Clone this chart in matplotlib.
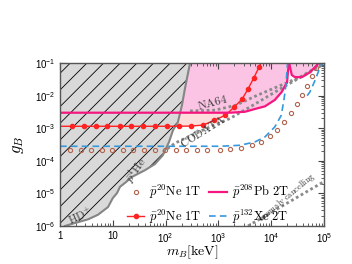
import numpy as np
import matplotlib.pyplot as plt
from matplotlib.ticker import FuncFormatter, LogLocator, NullFormatter

plt.rcParams['font.family'] = 'Liberation Sans'
plt.rcParams['hatch.linewidth'] = 0.6

# excluded region (HD+ / pbar-4He), boundary points
gray_m = [1, 1.24, 1.92, 3.4, 5.2, 8.1, 10, 12, 13.7, 17, 23, 41, 63, 89, 116, 138, 171, 204, 233, 290]
gray_g = [1e-6, 1e-6, 1.23e-6, 1.6e-6, 2.2e-6, 3.8e-6, 7.2e-6, 1.02e-5, 1.6e-5, 2.1e-5, 3.2e-5,
          5.2e-5, 8e-5, 1.5e-4, 3.8e-4, 8.7e-4, 1.55e-3, 5.1e-3, 1.7e-2, 0.1]

# pbar 20Ne 1T (filled markers)
red_m = [1, 1.69, 2.8, 4.8, 7.9, 13.5, 22.4, 38, 63, 107, 178, 302, 513, 832, 1350, 2000, 2820, 3630, 4680, 5890, 6310]
red_g = [1.15e-3, 1.15e-3, 1.15e-3, 1.15e-3, 1.15e-3, 1.15e-3, 1.15e-3, 1.15e-3, 1.15e-3, 1.15e-3, 1.15e-3,
         1.17e-3, 1.25e-3, 1.75e-3, 2.5e-3, 4.5e-3, 7.9e-3, 1.6e-2, 3.5e-2, 7.6e-2, 0.1]

# pbar 208Pb 2T
pb_m = [1, 1660, 3160, 4900, 7590, 1.17e4, 1.58e4, 2.0e4, 2.09e4, 2.19e4,
        2.29e4, 2.45e4, 2.82e4, 3.8e4, 5.4e4, 7.4e4, 7.8e4]
pb_g = [3.0e-3, 3.0e-3, 3.2e-3, 3.9e-3, 4.7e-3, 7.4e-3, 1.3e-2, 2.6e-2, 6.2e-2, 0.1,
        7.1e-2, 4.3e-2, 3.7e-2, 3.7e-2, 5.2e-2, 8.7e-2, 0.1]

# pbar 132Xe 2T (two branches, nan separates)
xe_m = [1, 1070, 2570, 4900, 7590, 1.17e4, 1.55e4, 1.74e4, 1.9e4, 2.04e4,
        np.nan, 4.8e4, 5.4e4, 6.8e4, 8.3e4, 9.5e4]
xe_g = [2.8e-4, 2.8e-4, 3.0e-4, 3.8e-4, 5.4e-4, 1.1e-3, 2.5e-3, 7.4e-3, 2.1e-2, 0.1,
        np.nan, 1.0e-2, 1.3e-2, 3.0e-2, 7.1e-2, 0.1]

# pbar 20Ne 1T (open circles)
ne_m = [1.55, 2.45, 3.9, 6.2, 9.8, 15.5, 24.5, 39, 62, 98, 155, 245, 390, 620, 1070, 1660, 2690,
        4370, 6460, 9550, 1.29e4, 1.74e4, 2.34e4, 3.02e4, 3.8e4, 4.8e4, 5.9e4, 7.1e4]
ne_g = [2.1e-4] * 14 + [2.14e-4, 2.3e-4, 2.45e-4, 3.0e-4, 3.8e-4, 5.75e-4, 8.7e-4, 1.55e-3,
                        2.95e-3, 5.5e-3, 1.05e-2, 1.95e-2, 4.0e-2, 7.1e-2]

# NA64 and CODATA bounds
na64_m = [290, 870, 2140, 5100, 1.23e4, 3.5e4, 1e5]
na64_g = [3.4e-3, 3.6e-3, 5.1e-3, 9.8e-3, 1.8e-2, 3.7e-2, 0.1]
codata_m = [89, 151, 290, 690, 1660, 4900, 1.8e4, 1e5]
codata_g = [1.86e-4, 3.5e-4, 5.8e-4, 1.1e-3, 2.0e-3, 5.5e-3, 1.95e-2, 9.3e-2]

# anomaly cancelling line
anom_m = [3630, 9.5e4]
anom_g = [1e-6, 2.2e-5]

pink = '#fbc4e4'
salmon = '#fddcdc'
magenta = '#f5177f'
red = '#ff2222'
blue = '#3598dc'
brown = '#b3634b'
dotgray = '#8a8a8a'

fig = plt.figure(figsize=(3.52, 2.64), dpi=100)
ax = fig.add_axes([0.1705, 0.144, 0.75, 0.617])
ax.set_xscale('log')
ax.set_yscale('log')

ax.fill_between(red_m, red_g, 0.1, color=salmon, lw=0, zorder=1)
ax.fill_between(pb_m, pb_g, 0.1, color=pink, lw=0, zorder=1.5)

ax.fill(gray_m + [1], gray_g + [0.1], facecolor='#d9d9d9', edgecolor='k', hatch='//', lw=0, zorder=2)
ax.plot(gray_m[1:], gray_g[1:], color='#858585', lw=1.5, zorder=2.5)

ls_dot = (0, (1, 1))
ax.plot(na64_m, na64_g, color=dotgray, lw=2, ls=ls_dot, zorder=3)
ax.plot(codata_m, codata_g, color=dotgray, lw=2, ls=ls_dot, zorder=3)
ax.plot(anom_m, anom_g, color=dotgray, lw=2, ls=ls_dot, zorder=3)

ax.plot(ne_m, ne_g, ls='none', marker='o', ms=3, mfc='none', mec=brown, mew=0.8, zorder=4,
        label=r'$\bar{p}^{20}\mathrm{Ne}\ 1\mathrm{T}$')
ax.plot(red_m, red_g, color=red, lw=1, marker='o', ms=3, markevery=slice(1, -1), zorder=4,
        label=r'$\bar{p}^{20}\mathrm{Ne}\ 1\mathrm{T}$')
ax.plot(pb_m, pb_g, color=magenta, lw=1.6, zorder=4,
        label=r'$\bar{p}^{208}\mathrm{Pb}\ 2\mathrm{T}$')
ax.plot(xe_m, xe_g, color=blue, lw=1.2, ls=(0, (4, 2.5)), zorder=4,
        label=r'$\bar{p}^{132}\mathrm{Xe}\ 2\mathrm{T}$')

ax.set_xlim(1, 1e5)
ax.set_ylim(1e-6, 1e-1)


def fmt(v, pos):
    e = int(round(np.log10(v)))
    if e == 0:
        return '1'
    if e == 1:
        return '10'
    return r'$\mathregular{10^{%d}}$' % e


ax.xaxis.set_major_formatter(FuncFormatter(fmt))
ax.yaxis.set_major_formatter(FuncFormatter(fmt))
ax.xaxis.set_minor_locator(LogLocator(subs=np.arange(2, 10), numticks=20))
ax.yaxis.set_minor_locator(LogLocator(subs=np.arange(2, 10), numticks=20))
ax.xaxis.set_minor_formatter(NullFormatter())
ax.yaxis.set_minor_formatter(NullFormatter())
ax.tick_params(which='both', direction='in', top=True, right=True, labelsize=7, colors='#444444',
               labelcolor='k')
ax.tick_params(which='major', length=4, width=0.8)
ax.tick_params(which='minor', length=2, width=0.6)
for s in ax.spines.values():
    s.set_color('#555555')
    s.set_linewidth(1.0)
    s.set_zorder(5)

ax.set_xlabel(r'$m_B[\mathrm{keV}]$', fontsize=10, math_fontfamily='cm', labelpad=-1)
ax.set_ylabel(r'$g_B$', fontsize=12, math_fontfamily='cm', labelpad=6)

tc = '#3a3a3a'
ax.text(2.4, 2.0e-6, r'$\mathrm{HD}^{+}$', rotation=25, fontsize=8, color=tc, math_fontfamily='cm',
        ha='center', va='center', zorder=6)
ax.text(27, 5.2e-5, r'$\bar{p}^{4}\mathrm{He}$', rotation=55, fontsize=8.5, color=tc, math_fontfamily='cm',
        ha='center', va='center', zorder=6)
ax.text(510, 8.0e-4, r'$\mathrm{CODATA}$', rotation=32, fontsize=8, color=tc, math_fontfamily='cm',
        ha='center', va='center', zorder=6)
ax.text(790, 6.0e-3, r'$\mathrm{NA64}$', rotation=15, fontsize=8.5, color=tc, math_fontfamily='cm',
        ha='center', va='center', zorder=6)
ax.text(2.0e4, 7.8e-6, r'$\mathrm{anomaly\ cancelling}$', rotation=40, fontsize=6, color=tc,
        math_fontfamily='cm', ha='center', va='center', zorder=6)

ax.legend(loc='upper left', bbox_to_anchor=(0.23, 0.30), ncol=2, frameon=False,
          prop={'size': 9, 'math_fontfamily': 'cm'}, handlelength=1.4, handletextpad=0.4,
          columnspacing=0.6, labelspacing=0.5, borderpad=0)

fig.savefig('out.png', dpi=100)
